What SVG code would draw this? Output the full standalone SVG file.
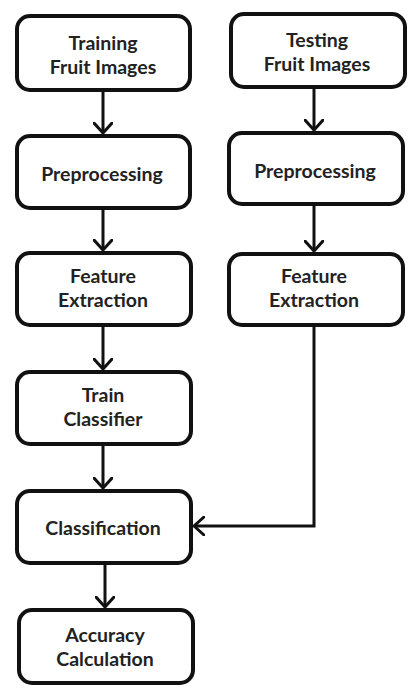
<svg xmlns="http://www.w3.org/2000/svg" width="415" height="695" viewBox="0 0 415 695">
<style>
.box{fill:#fff;stroke:#111;stroke-width:4}
.t{font-family:Lato,"Open Sans","Liberation Sans",sans-serif;font-weight:bold;font-size:19.5px;fill:#222;text-anchor:middle}
.c{fill:none;stroke:#111;stroke-width:3}
</style>
<defs>
<marker id="ah" viewBox="0 0 12 20" refX="11" refY="10" markerWidth="12" markerHeight="20" markerUnits="userSpaceOnUse" orient="auto">
<path d="M1,1 L11,10 L1,19" fill="none" stroke="#111" stroke-width="3" stroke-linecap="round" stroke-linejoin="round"/>
</marker>
</defs>
<g id="connectors">
<line class="c" x1="103" y1="90" x2="103" y2="133" marker-end="url(#ah)"/>
<line class="c" x1="103" y1="208" x2="103" y2="250" marker-end="url(#ah)"/>
<line class="c" x1="103" y1="325" x2="103" y2="369" marker-end="url(#ah)"/>
<line class="c" x1="103" y1="444" x2="103" y2="488" marker-end="url(#ah)"/>
<line class="c" x1="105" y1="563" x2="105" y2="607" marker-end="url(#ah)"/>
<line class="c" x1="314" y1="87" x2="314" y2="130" marker-end="url(#ah)"/>
<line class="c" x1="314" y1="204" x2="314" y2="251" marker-end="url(#ah)"/>
<polyline class="c" points="314,325 314,526 194,526" marker-end="url(#ah)"/>
</g>
<g id="training"><rect class="box" x="17" y="16" width="173" height="74" rx="13"/><text class="t" x="103" y="50">Training</text><text class="t" x="103" y="74">Fruit Images</text></g>
<g id="testing"><rect class="box" x="231" y="14" width="174" height="73" rx="13"/><text class="t" x="317" y="47">Testing</text><text class="t" x="317" y="71">Fruit Images</text></g>
<g id="preproc1"><rect class="box" x="17" y="136" width="173" height="72" rx="13"/><text class="t" x="102" y="181">Preprocessing</text></g>
<g id="preproc2"><rect class="box" x="229" y="133" width="174" height="71" rx="13"/><text class="t" x="315" y="178">Preprocessing</text></g>
<g id="feature1"><rect class="box" x="17" y="253" width="174" height="72" rx="13"/><text class="t" x="103" y="283">Feature</text><text class="t" x="103" y="307">Extraction</text></g>
<g id="feature2"><rect class="box" x="229" y="254" width="174" height="71" rx="13"/><text class="t" x="314" y="283">Feature</text><text class="t" x="314" y="307">Extraction</text></g>
<g id="train"><rect class="box" x="17" y="372" width="174" height="72" rx="13"/><text class="t" x="103" y="402">Train</text><text class="t" x="103" y="426">Classifier</text></g>
<g id="classification"><rect class="box" x="17" y="491" width="174" height="72" rx="13"/><text class="t" x="103" y="535">Classification</text></g>
<g id="accuracy"><rect class="box" x="19" y="610" width="174" height="73" rx="13"/><text class="t" x="105" y="642">Accuracy</text><text class="t" x="105" y="666">Calculation</text></g>
</svg>
